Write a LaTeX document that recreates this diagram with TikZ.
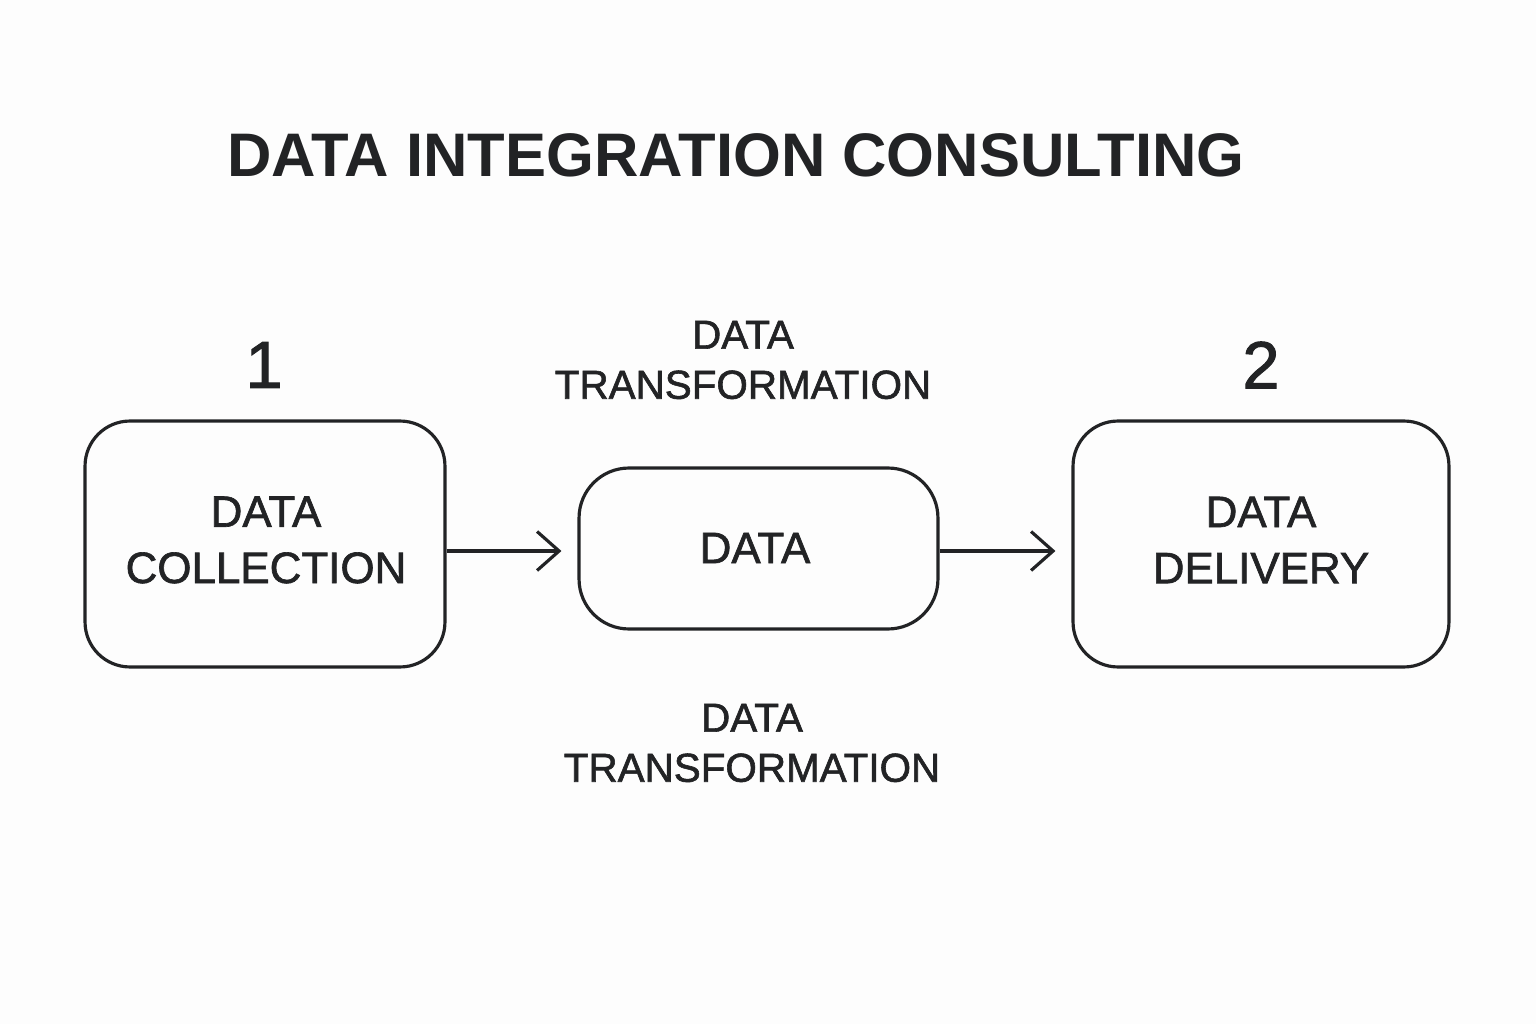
\documentclass[tikz,border=0pt]{standalone}
\usepackage{fontspec}
\setmainfont{Liberation Sans}
\newfontfamily\medfont[FakeBold=1.5]{Liberation Sans}
\usetikzlibrary{arrows.meta}
\definecolor{ink}{HTML}{222325}
\definecolor{bg}{HTML}{FDFDFD}
\tikzset{
  box/.style={draw=ink, line width=1.8pt, rounded corners=0.9cm, inner sep=0pt},
  boxtext/.style={text=ink, align=center, font=\medfont\fontsize{25}{32}\selectfont},
  lbl/.style={text=ink, align=center, font=\medfont\fontsize{23}{28.5}\selectfont},
  num/.style={text=ink, font=\medfont\fontsize{38}{40}\selectfont},
  flow/.style={draw=ink, line width=1.8pt, -{Straight Barb[length=0.44cm, width=0.78cm, line width=1.8pt]}, shorten >=0.32cm}
}
\begin{document}
\begin{tikzpicture}[x=0.02cm, y=-0.02cm]
\useasboundingbox[fill=bg] (0,0) rectangle (1536,1024);
\node[text=ink, font=\fontsize{35}{40}\selectfont\bfseries] (title) at (736,155) {DATA INTEGRATION CONSULTING};
\node[box, minimum width=7.2cm, minimum height=4.92cm] (b1) at (265,544) {};
\node[boxtext] (b1t) at (266,540) {DATA\\COLLECTION};
\node[box, minimum width=7.18cm, minimum height=3.22cm, rounded corners=1cm] (b2) at (758.5,548.5) {};
\node[boxtext] (b2t) at (755,548) {DATA};
\node[box, minimum width=7.52cm, minimum height=4.92cm] (b3) at (1261,544) {};
\node[boxtext] (b3t) at (1261,540) {DATA\\DELIVERY};
\node[num] (n1) at (264,365) {1};
\node[num] (n2) at (1261,365) {2};
\node[lbl] (t1) at (743,360) {DATA\\TRANSFORMATION};
\node[lbl] (t2) at (752,743) {DATA\\TRANSFORMATION};
\draw[flow] (b1.east |- 0,551) -- (b2.west |- 0,551);
\draw[flow] (b2.east |- 0,551) -- (b3.west |- 0,551);
\end{tikzpicture}
\end{document}
